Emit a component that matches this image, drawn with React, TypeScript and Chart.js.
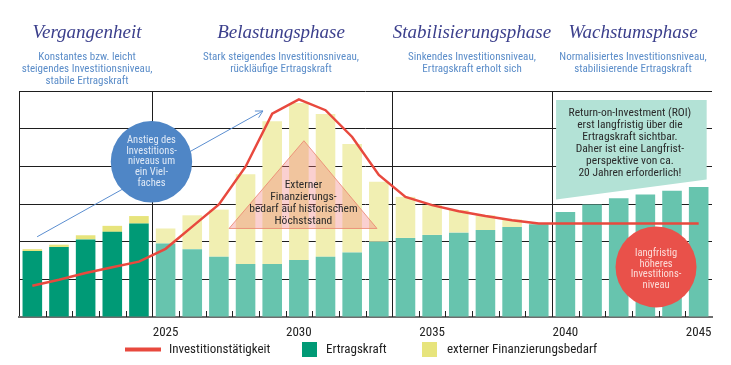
import React, { useEffect, useRef } from "react";
import { Chart, registerables } from "chart.js";
Chart.register(...registerables);

// ---------- data ----------
const years = [
  "2020", "2021", "2022", "2023", "2024", "2025", "2026", "2027", "2028", "2029",
  "2030", "2031", "2032", "2033", "2034", "2035", "2036", "2037", "2038", "2039",
  "2040", "2041", "2042", "2043", "2044", "2045",
];
const tickYears = ["2025", "2030", "2035", "2040", "2045"];
const investitionstaetigkeit = [
  8.3, 9.9, 11.7, 13.2, 14.7, 18.1, 24.0, 29.9, 39.9, 54.0,
  57.8, 54.9, 47.8, 37.7, 31.9, 29.7, 28.1, 26.8, 25.7, 24.8,
  24.8, 24.8, 24.8, 24.8, 24.8, 24.8,
];
const ertragskraft = [
  17.5, 18.6, 20.6, 22.6, 24.8, 19.5, 18.0, 16.0, 14.1, 14.1,
  15.1, 16.0, 17.1, 20.0, 21.0, 21.8, 22.4, 23.1, 23.9, 24.6,
  27.9, 29.9, 31.5, 32.5, 33.5, 34.5,
];
const externerFinanzierungsbedarf = [
  0.5, 0.6, 1.1, 1.6, 2.0, 4.0, 9.0, 12.5, 23.8, 37.9,
  41.7, 37.9, 28.8, 15.9, 10.9, 7.9, 6.0, 3.9, 2.0, 0.2,
  0, 0, 0, 0, 0, 0,
];
const pastYearCount = 5;
const phaseTitles = ["Vergangenheit", "Belastungsphase", "Stabilisierungsphase", "Wachstumsphase"];
const phaseSubtitles = [
  ["Konstantes bzw. leicht", "steigendes Investitionsniveau,", "stabile Ertragskraft"],
  ["Stark steigendes Investitionsniveau,", "rückläufige Ertragskraft"],
  ["Sinkendes Investitionsniveau,", "Ertragskraft erholt sich"],
  ["Normalisiertes Investitionsniveau,", "stabilisierende Ertragskraft"],
];
const phaseBoundaries = [0, 5, 14, 20]; // grid line index (left edge of category)
const legendLabels = ["Investitionstätigkeit", "Ertragskraft", "externer Finanzierungsbedarf"];
const blueNote = ["Anstieg des", "Investitions-", "niveaus um", "ein Viel-", "faches"];
const triangleNote = ["Externer", "Finanzierungs-", "bedarf auf historischem", "Höchststand"];
const roiNote = [
  "Return-on-Investment (ROI)",
  "erst langfristig über die",
  "Ertragskraft sichtbar.",
  "Daher ist eine Langfrist-",
  "perspektive von ca.",
  "20 Jahren erforderlich!",
];
const redNote = ["langfristig", "höheres", "Investitions-", "niveau"];

// ---------- styles ----------
const SANS = "'Liberation Sans Narrow', 'Roboto Condensed', 'Liberation Sans', sans-serif";
const SERIF = "'Liberation Serif', 'DejaVu Serif', serif";
const GREEN_DARK = "#009a76";
const GREEN_LIGHT = "#67c4ae";
const YELLOW_DARK = "#e7e47c";
const YELLOW_LIGHT = "#f1efb2";
const RED = "#e8493e";
const GRID = "#1e1e1e";

function textLines(ctx: CanvasRenderingContext2D, lines: string[], cx: number, cy: number, lh: number) {
  const start = cy - ((lines.length - 1) * lh) / 2;
  lines.forEach((l, i) => ctx.fillText(l, cx, start + i * lh));
}

const decorPlugin = {
  id: "decor",
  beforeDatasetsDraw(chart: any) {
    const ctx: CanvasRenderingContext2D = chart.ctx;
    const xs = chart.scales.x;
    const ys = chart.scales.y;
    const px = (i: number) => xs.getPixelForValue(i);
    const py = (v: number) => ys.getPixelForValue(v);
    ctx.save();
    // ROI polygon (grid lines run over it)
    ctx.beginPath();
    ctx.moveTo(px(19.65), py(57.6));
    ctx.lineTo(px(25.3), py(57.6));
    ctx.lineTo(px(25.3), py(36.5));
    ctx.lineTo(px(19.65), py(31.2));
    ctx.closePath();
    ctx.fillStyle = "#b3e2d6";
    ctx.fill();
    ctx.fillStyle = "#2a2a2a";
    ctx.font = `11.5px ${SANS}`;
    ctx.textAlign = "center";
    ctx.textBaseline = "middle";
    textLines(ctx, roiNote, px(22.42), py(46.2), 11.9);
    ctx.restore();
  },
  afterDraw(chart: any) {
    const ctx: CanvasRenderingContext2D = chart.ctx;
    const xs = chart.scales.x;
    const ys = chart.scales.y;
    const px = (i: number) => xs.getPixelForValue(i);
    const py = (v: number) => ys.getPixelForValue(v);
    const area = chart.chartArea;
    ctx.save();

    // inward tick marks at category boundaries
    ctx.strokeStyle = "#222";
    ctx.lineWidth = 1;
    for (let i = 1; i < years.length; i++) {
      const x = Math.round(px(i - 0.5)) + 0.5;
      ctx.beginPath();
      ctx.moveTo(x, area.bottom - 6);
      ctx.lineTo(x, area.bottom);
      ctx.stroke();
    }

    // phase headers
    const centers = [87, 281, 472, 633];
    ctx.textAlign = "center";
    ctx.textBaseline = "alphabetic";
    phaseTitles.forEach((t, i) => {
      ctx.fillStyle = "#3b3f8c";
      ctx.font = `italic 19px ${SERIF}`;
      ctx.fillText(t, centers[i], 38);
      ctx.fillStyle = "#5b8dc9";
      ctx.font = `11px ${SANS}`;
      ctx.textBaseline = "middle";
      phaseSubtitles[i].forEach((s, j) => ctx.fillText(s, centers[i], 57 + j * 12.2));
      ctx.textBaseline = "alphabetic";
    });

    // arrow
    const ax1 = px(0.18), ay1 = py(21.3), ax2 = px(8.65), ay2 = py(54.7);
    ctx.strokeStyle = "#5b8ed0";
    ctx.lineWidth = 1;
    ctx.beginPath();
    ctx.moveTo(ax1, ay1);
    ctx.lineTo(ax2, ay2);
    const ang = Math.atan2(ay2 - ay1, ax2 - ax1);
    ctx.moveTo(ax2 - 8 * Math.cos(ang - 0.5), ay2 - 8 * Math.sin(ang - 0.5));
    ctx.lineTo(ax2, ay2);
    ctx.lineTo(ax2 - 8 * Math.cos(ang + 0.5), ay2 - 8 * Math.sin(ang + 0.5));
    ctx.stroke();

    // blue circle
    const bx = px(4.47), by = py(41.2);
    ctx.fillStyle = "#4f86c6";
    ctx.beginPath();
    ctx.arc(bx, by, 40.7, 0, Math.PI * 2);
    ctx.fill();
    ctx.fillStyle = "#dfe9f6";
    ctx.font = `10.5px ${SANS}`;
    ctx.textBaseline = "middle";
    textLines(ctx, blueNote, bx, by, 10.85);

    // triangle
    ctx.beginPath();
    ctx.moveTo(px(10.19), py(46.8));
    ctx.lineTo(px(12.93), py(23.5));
    ctx.lineTo(px(7.38), py(23.5));
    ctx.closePath();
    ctx.fillStyle = "rgba(240,120,120,0.35)";
    ctx.fill();
    ctx.strokeStyle = "rgba(235,130,110,0.8)";
    ctx.stroke();
    ctx.fillStyle = "#2a2a2a";
    ctx.font = `11.5px ${SANS}`;
    textLines(ctx, triangleNote, px(10.17), py(30.3), 12);

    // red circle
    const rx = px(23.4), ry = py(13.3);
    ctx.fillStyle = "#e9514a";
    ctx.beginPath();
    ctx.arc(rx, ry, 40.5, 0, Math.PI * 2);
    ctx.fill();
    ctx.fillStyle = "#fbdcd8";
    ctx.font = `10.5px ${SANS}`;
    textLines(ctx, redNote, rx, ry + 2.6, 10.67);

    // legend
    ctx.textAlign = "left";
    ctx.font = `13px ${SANS}`;
    ctx.fillStyle = RED;
    ctx.fillRect(125, 347.5, 36, 4);
    ctx.fillStyle = GREEN_DARK;
    ctx.fillRect(302, 342, 15, 15);
    ctx.fillStyle = YELLOW_DARK;
    ctx.fillRect(422, 342, 15, 15);
    ctx.fillStyle = "#222";
    ctx.fillText(legendLabels[0], 169, 350);
    ctx.fillText(legendLabels[1], 326, 350);
    ctx.fillText(legendLabels[2], 447, 350);

    ctx.restore();
  },
};

export default function App() {
  const ref = useRef<HTMLCanvasElement | null>(null);
  useEffect(() => {
    if (!ref.current) return;
    const chart = new Chart(ref.current, {
      type: "bar",
      data: {
        labels: years,
        datasets: [
          {
            type: "line",
            label: legendLabels[0],
            data: investitionstaetigkeit,
            borderColor: RED,
            borderWidth: 2.5,
            pointRadius: 0,
            tension: 0,
            order: 0,
          } as any,
          {
            label: legendLabels[1],
            data: ertragskraft,
            backgroundColor: years.map((_, i) => (i < pastYearCount ? GREEN_DARK : GREEN_LIGHT)),
            stack: "s",
            order: 1,
            barPercentage: 0.735,
            categoryPercentage: 1,
          },
          {
            label: legendLabels[2],
            data: externerFinanzierungsbedarf,
            backgroundColor: years.map((_, i) => (i < pastYearCount ? YELLOW_DARK : YELLOW_LIGHT)),
            stack: "s",
            order: 1,
            barPercentage: 0.735,
            categoryPercentage: 1,
          },
        ],
      },
      options: {
        animation: false,
        responsive: false,
        devicePixelRatio: 1,
        layout: { padding: { left: 19, top: 91, right: 19, bottom: 28 } },
        plugins: { legend: { display: false }, tooltip: { enabled: false } },
        scales: {
          x: {
            stacked: true,
            z: 1,
            afterFit: (s: any) => { s.height = 20; },
            grid: {
              offset: true,
              drawTicks: false,
              color: (c: any) => (phaseBoundaries.includes(c.index) ? GRID : "rgba(0,0,0,0)"),
              lineWidth: 1,
            },
            border: { display: true, color: "#6e6e6e", width: 2 },
            ticks: {
              autoSkip: false,
              maxRotation: 0,
              padding: 8,
              color: "#222",
              font: { family: SANS, size: 13 },
              callback: (_v: any, i: number) => (tickYears.includes(years[i]) ? years[i] : ""),
            },
          },
          y: {
            stacked: true,
            min: 0,
            max: 60,
            z: 1,
            afterFit: (s: any) => { s.width = 0; },
            ticks: { display: false, stepSize: 10 },
            grid: { color: GRID, lineWidth: 1, drawTicks: false },
            border: { display: false },
          },
        },
      },
      plugins: [decorPlugin],
    });
    return () => chart.destroy();
  }, []);
  return (
    <div style={{ position: "absolute", left: 0, top: 0, width: 731, height: 365, background: "#fff" }}>
      <canvas ref={ref} width={731} height={365} style={{ display: "block", width: 731, height: 365 }} />
    </div>
  );
}
